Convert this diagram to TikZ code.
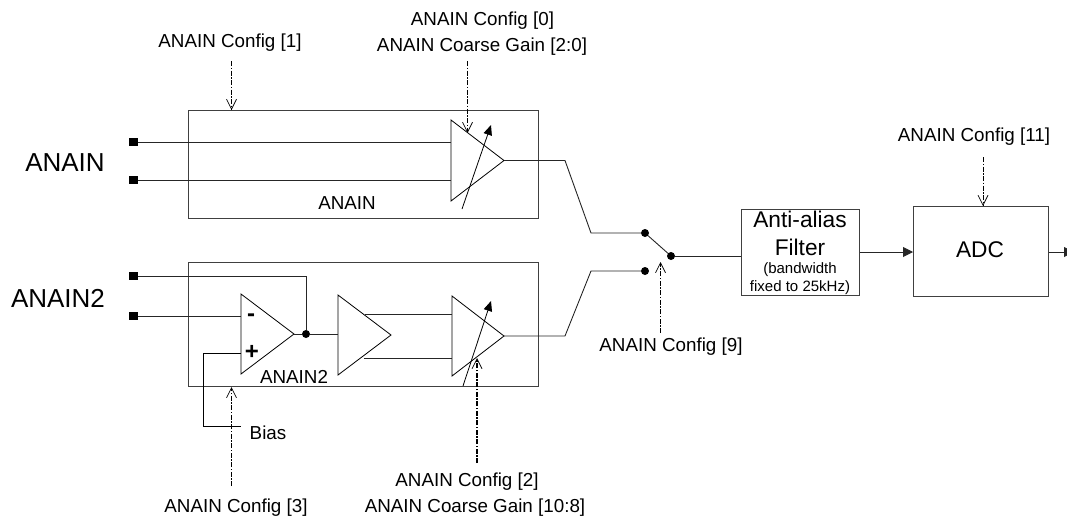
\documentclass[tikz,border=0pt]{standalone}
\usepackage{fontspec}
\setmainfont{Liberation Sans}
\usetikzlibrary{arrows.meta}
\tikzset{
  x=1pt,y=-1pt,
  wire/.style={line width=0.9pt,black!85,line join=miter},
  thin line/.style={line width=0.8pt,black},
  boxs/.style={draw=black!75,line width=1pt,fill=none},
  ctrl/.style={line width=0.8pt,black,dash pattern=on 5pt off 1.5pt on 1.5pt off 1.5pt,-{Straight Barb[length=10pt,width=10pt,line width=0.7pt]}},
  ctrlb/.style={ctrl,line width=1.1pt},
  term/.style={fill=black,minimum size=8.5pt,inner sep=0pt,outer sep=0pt},
  jdot/.style={circle,fill=black,minimum size=8pt,inner sep=0pt,outer sep=0pt},
  lab/.style={inner sep=0pt,font=\fontsize{18.8}{22}\selectfont},
  biglab/.style={inner sep=0pt,font=\fontsize{26}{30}\selectfont},
  midlab/.style={inner sep=0pt,font=\fontsize{22.7}{27}\selectfont},
  small/.style={inner sep=0pt,font=\fontsize{15}{18}\selectfont},
  gain/.style={line width=0.8pt,-{Triangle[length=10pt,width=8.5pt]}},
  flow/.style={wire,-{Triangle[length=10pt,width=10pt]}}
}
\begin{document}
\begin{tikzpicture}
\useasboundingbox (0,0) rectangle (1067,520);
% blocks
\node[boxs,minimum width=350pt,minimum height=108pt,anchor=north west,inner sep=0pt] (b1) at (187.5,110) {};
\node[boxs,minimum width=350pt,minimum height=124pt,anchor=north west,inner sep=0pt] (b2) at (187.5,262) {};
\node[boxs,minimum width=118pt,minimum height=86pt,anchor=north west,inner sep=0pt] (filt) at (741,209) {};
\node[boxs,minimum width=135pt,minimum height=90pt,anchor=north west,inner sep=0pt] (adc) at (913,206) {};
% terminals
\node[term] (t1) at (133.5,142) {};
\node[term] (t2) at (133.5,180) {};
\node[term] (t3) at (133.5,276) {};
\node[term] (t4) at (133.5,316) {};
% amplifier corners
\coordinate (a1t) at (451,120); \coordinate (a1b) at (451,201); \coordinate (a1o) at (504,160.5);
\coordinate (a2t) at (241,294); \coordinate (a2b) at (241,374); \coordinate (a2o) at (294,334);
\coordinate (a3t) at (338,295); \coordinate (a3b) at (338,375); \coordinate (a3o) at (391,335);
\coordinate (a4t) at (452,296); \coordinate (a4b) at (452,376); \coordinate (a4o) at (504,336);
\draw[thin line] (a1t) -- (a1b) -- (a1o) -- cycle;
\draw[thin line] (a2t) -- (a2b) -- (a2o) -- cycle;
\draw[thin line] (a3t) -- (a3b) -- (a3o) -- cycle;
\draw[thin line] (a4t) -- (a4b) -- (a4o) -- cycle;
% inputs
\coordinate (a1i1) at (451,142); \coordinate (a1i2) at (451,180);
\draw[wire] (t1) -- (a1i1);
\draw[wire] (t2) -- (a1i2);
\node[jdot] (j) at (306,334) {};
\coordinate (a2i1) at (241,316); \coordinate (a2i2) at (241,353);
\draw[wire] (t3) -| (j);
\draw[wire] (t4) -- (a2i1);
\draw[wire] (a2o) -- (j);
\coordinate (a3i) at (338,334);
\draw[wire] (j) -- (a3i);
\coordinate (biasc) at (203.5,426); \coordinate (biase) at (241,426);
\draw[thin line] (a2i2) -| (biasc) -- (biase);
\coordinate (a3x1) at (365,314); \coordinate (a4i1) at (452,314);
\coordinate (a3x2) at (364,358); \coordinate (a4i2) at (452,358);
\draw[wire] (a3x1) -- (a4i1);
\draw[wire] (a3x2) -- (a4i2);
% variable gain arrows
\coordinate (g1s) at (462,209); \coordinate (g1e) at (491,125);
\coordinate (g2s) at (463,386); \coordinate (g2e) at (491,301);
\draw[gain] (g1s) -- (g1e);
\draw[gain] (g2s) -- (g2e);
% switch
\node[jdot] (s1) at (645,233) {};
\node[jdot] (s2) at (645,271) {};
\node[jdot] (s3) at (671,256) {};
\coordinate (u1) at (565,160.5); \coordinate (u2) at (591,233);
\coordinate (l1) at (565,336); \coordinate (l2) at (591,271);
\draw[wire] (a1o) -- (u1) -- (u2) -- (s1);
\draw[wire] (a4o) -- (l1) -- (l2) -- (s2);
\draw[wire] (s1) -- (s3);
\draw[wire] (s3) -- (s3 -| filt.west);
\draw[flow] (filt.east |- 0,252) -- (adc.west |- 0,252);
\coordinate (outp) at (1067,252);
\draw[flow] (adc.east |- outp) -- ([xshift=7pt]outp);
% control arrows
\coordinate (c1s) at (231.5,61); \coordinate (c1e) at (231.5,110);
\coordinate (c0s) at (467.5,61); \coordinate (c0e) at (467.5,133);
\coordinate (c3s) at (231.5,486); \coordinate (c3e) at (231.5,387);
\coordinate (c2s) at (477,463); \coordinate (c2e) at (477,358);
\coordinate (c9s) at (660.5,333); \coordinate (c9e) at (660.5,262);
\coordinate (c11s) at (983,157); \coordinate (c11e) at (983,206);
\draw[ctrl] (c1s) -- (c1e);
\draw[ctrlb] (c0s) -- (c0e);
\draw[ctrl] (c3s) -- (c3e);
\draw[ctrlb] (c2s) -- (c2e);
\draw[ctrl] (c9s) -- (c9e);
\draw[ctrl] (c11s) -- (c11e);
% labels
\node[biglab] (la) at (65,163) {ANAIN};
\node[biglab] (lb) at (58,298) {ANAIN2};
\node[lab] (i1) at (347,203) {ANAIN};
\node[lab] (i2) at (294,377) {ANAIN2};
\node[lab] (cf1) at (230,43) {ANAIN Config [1]};
\node[lab] (cf0) at (482.5,21) {ANAIN Config [0]};
\node[lab] (cg0) at (482,47) {ANAIN Coarse Gain [2:0]};
\node[lab] (cf3) at (236,508) {ANAIN Config [3]};
\node[lab] (cf2) at (467,482) {ANAIN Config [2]};
\node[lab] (cg2) at (475,508) {ANAIN Coarse Gain [10:8]};
\node[lab] (cf9) at (671,347) {ANAIN Config [9]};
\node[lab] (cf11) at (974,137) {ANAIN Config [11]};
\node[lab] (bias) at (268,433) {Bias};
\node[lab,font=\fontsize{24}{28}\bfseries\selectfont] (mn) at (251,318) {-};
\node[lab,font=\fontsize{24}{28}\bfseries\selectfont] (pl) at (252,352) {+};
\node[midlab] (f1) at (800,219.5) {Anti-alias};
\node[midlab] (f2) at (800,247) {Filter};
\node[small] (f3) at (800,270) {(bandwidth};
\node[small] (f4) at (800,288) {fixed to 25kHz)};
\node[midlab] (adct) at (980,250) {ADC};
\end{tikzpicture}
\end{document}
